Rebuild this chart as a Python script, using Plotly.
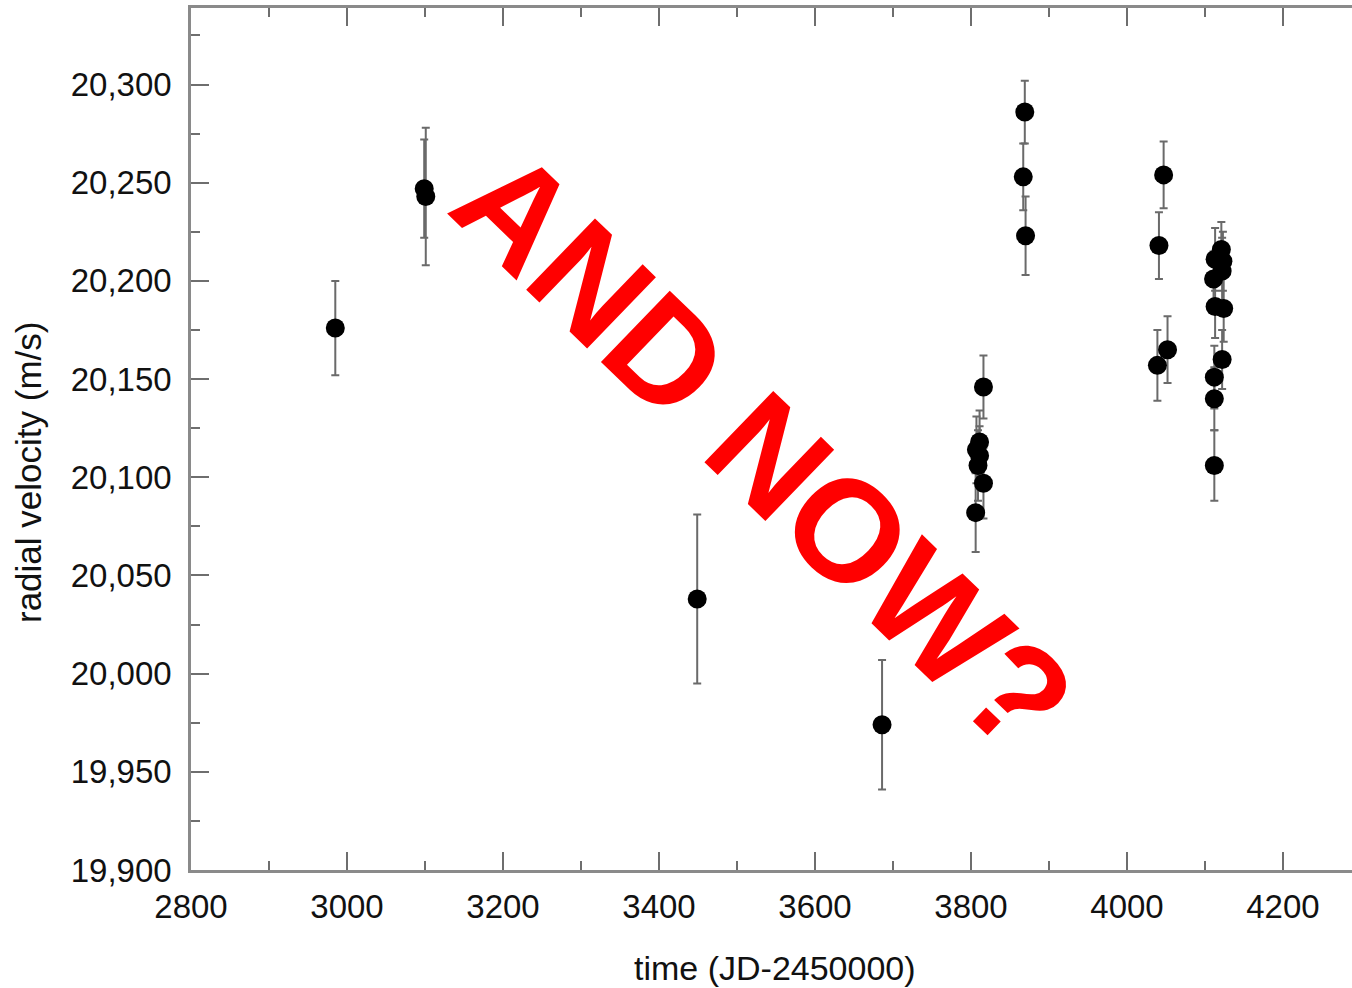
import plotly.graph_objects as go

# Data
time_jd = [2985, 3099, 3101, 3449, 3686,
           3816, 3811, 3807, 3811, 3809, 3816, 3806,
           3869, 3867, 3870,
           4047, 4041, 4052, 4039,
           4121, 4113, 4123, 4122, 4111, 4113, 4124, 4122, 4112, 4112, 4112]
rv = [20176, 20247, 20243, 20038, 19974,
      20146, 20118, 20114, 20111, 20106, 20097, 20082,
      20286, 20253, 20223,
      20254, 20218, 20165, 20157,
      20216, 20211, 20210, 20205, 20201, 20187, 20186, 20160, 20151, 20140, 20106]
rv_err = [24, 25, 35, 43, 33,
          16, 16, 17, 15, 18, 18, 20,
          16, 17, 20,
          17, 17, 17, 18,
          14, 16, 15, 17, 14, 16, 17, 15, 16, 16, 18]

x_range = [2800, 4288.5]
y_range = [19900, 20339]
x_title = "time (JD-2450000)"
y_title = "radial velocity (m/s)"
overlay_text = "AND NOW?"

FONT = "Liberation Sans, Arial, sans-serif"
LINE = "#8a8a8a"
TICK = "#6e6e6e"

fig = go.Figure()
fig.add_trace(go.Scatter(
    x=time_jd, y=rv, mode="markers",
    marker=dict(color="black", size=19),
    error_y=dict(type="data", array=rv_err, visible=True,
                 color="#6a6a6a", thickness=2, width=4),
    showlegend=False, hoverinfo="x+y",
))

fig.update_layout(
    width=1352, height=988,
    margin=dict(l=191, r=0, t=8, b=118),
    paper_bgcolor="white", plot_bgcolor="white",
    font=dict(family=FONT, size=33, color="#111"),
    xaxis=dict(
        range=x_range, showgrid=False, zeroline=False,
        showline=True, linecolor=LINE, linewidth=2.5, mirror="ticks",
        ticks="inside", ticklen=18, tickwidth=2, tickcolor=TICK,
        tick0=2800, dtick=200,
        minor=dict(ticks="inside", ticklen=9, tickwidth=2, tickcolor=TICK, dtick=100, showgrid=False),
        tickfont=dict(family=FONT, size=33, color="#111"),
        ticklabelstandoff=6,
    ),
    yaxis=dict(
        range=y_range, showgrid=False, zeroline=False,
        showline=True, linecolor=LINE, linewidth=2.5, mirror=False,
        ticks="inside", ticklen=18, tickwidth=2, tickcolor=TICK,
        tick0=19900, dtick=50, tickformat=",d",
        minor=dict(ticks="inside", ticklen=9, tickwidth=2, tickcolor=TICK, dtick=25, showgrid=False),
        tickfont=dict(family=FONT, size=33, color="#111"),
        ticklabelstandoff=10,
    ),
    yaxis2=dict(
        range=y_range, overlaying="y", side="right", anchor="x",
        showgrid=False, zeroline=False, showline=False, showticklabels=False,
        ticks="inside", ticklen=18, tickwidth=2, tickcolor=TICK,
        tick0=19900, dtick=50,
        minor=dict(ticks="inside", ticklen=9, tickwidth=2, tickcolor=TICK, dtick=25, showgrid=False),
    ),
)

# Axis titles
fig.add_annotation(text=x_title, xref="paper", yref="paper",
                   x=(775 - 191) / 1161, y=(870 - 968) / 862,
                   xanchor="center", yanchor="middle", showarrow=False,
                   font=dict(family=FONT, size=34, color="#111"))
fig.add_annotation(text=y_title, xref="paper", yref="paper",
                   x=(29 - 191) / 1161, y=(870 - 473) / 862,
                   xanchor="center", yanchor="middle", textangle=-90, showarrow=False,
                   font=dict(family=FONT, size=35, color="#111"))

# Red overlay text
fig.add_annotation(text=overlay_text, xref="paper", yref="paper",
                   x=(764 - 191) / 1161, y=(870 - 450) / 862,
                   xanchor="center", yanchor="middle", textangle=44, showarrow=False,
                   font=dict(family=FONT, size=144, color="#ff0000", weight="bold"))

fig.write_html("out.html",
               config={"displayModeBar": False},
               post_script="document.body.style.margin='0px';document.body.style.overflow='hidden';")
